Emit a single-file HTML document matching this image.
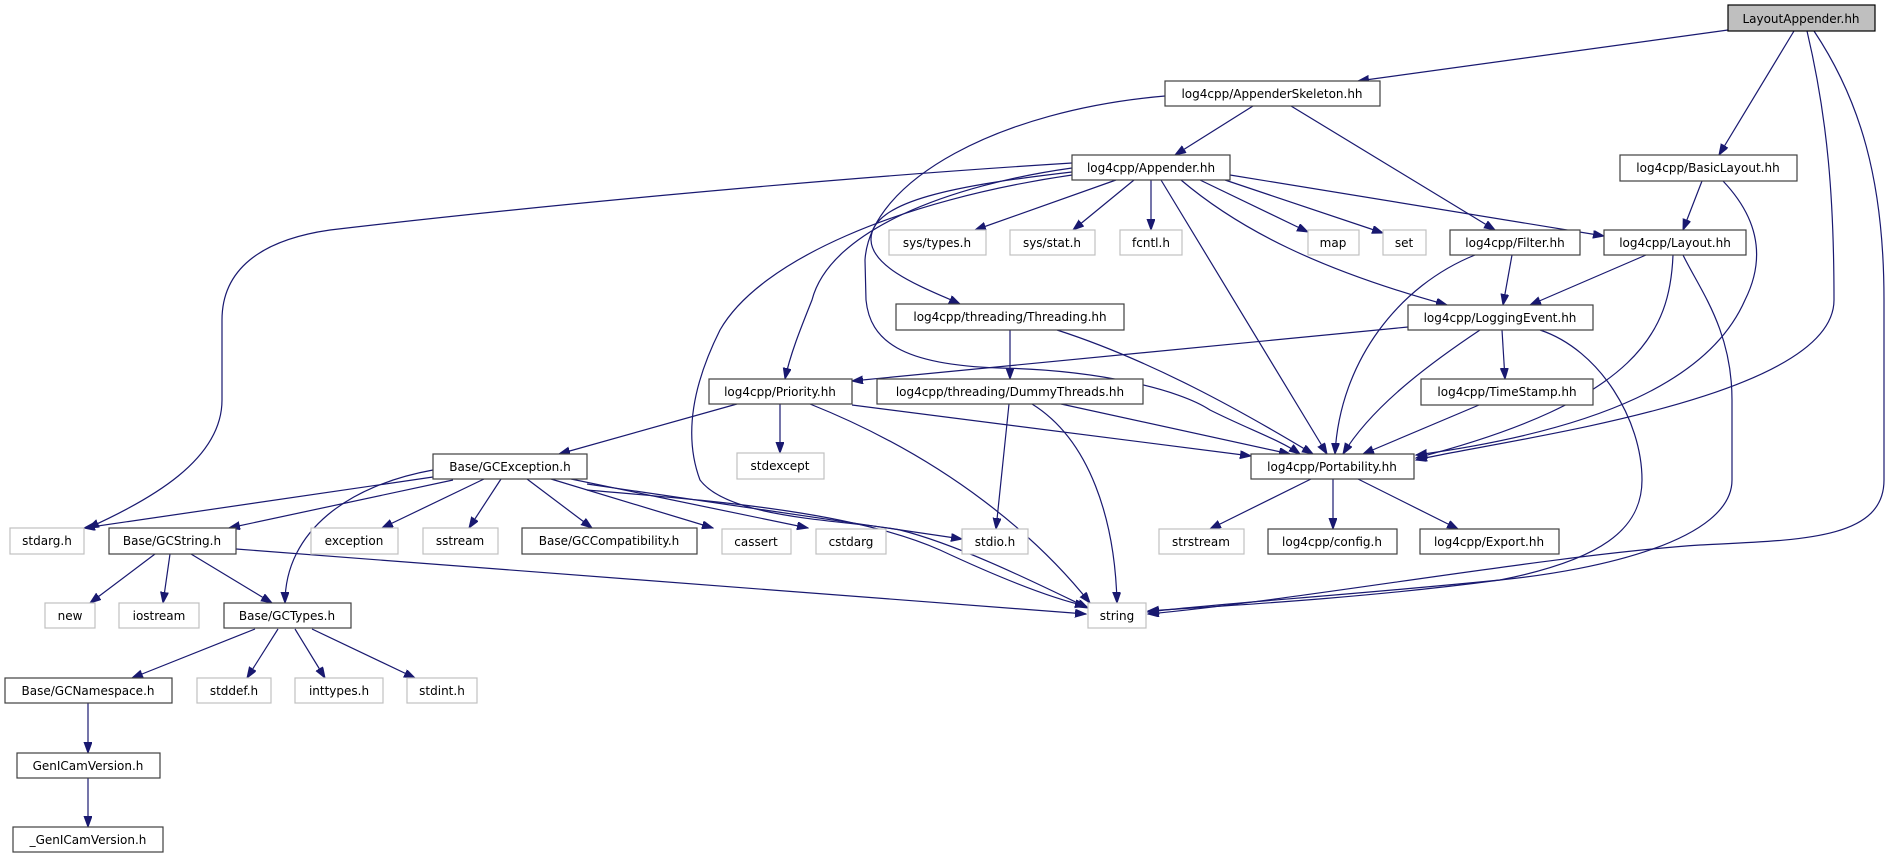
<!DOCTYPE html>
<html><head><meta charset="utf-8"><style>
html,body{margin:0;padding:0;background:#fff;width:1890px;height:859px;overflow:hidden}
svg{display:block}
text{font-family:"DejaVu Sans","Liberation Sans",sans-serif;font-size:12px;fill:#000;text-anchor:middle}
.n{fill:#fff;stroke:#404040;stroke-width:1.2}
.g{fill:#fff;stroke:#c0c0c0;stroke-width:1.2}
.e{fill:none;stroke:#191970;stroke-width:1.2;marker-end:url(#a)}
</style></head><body>
<svg width="1890" height="859" viewBox="0 0 1890 859" xmlns="http://www.w3.org/2000/svg">
<defs><marker id="a" markerUnits="userSpaceOnUse" markerWidth="12" markerHeight="9" refX="11" refY="4" orient="auto"><path d="M0,0 L11,4 L0,8 z" fill="#191970" stroke="#191970"/></marker></defs>
<g>
<path class="e" d="M1728,30 L1358,81"/>
<path class="e" d="M1794,31 L1719,155"/>
<path class="e" d="M1807,31 C1828,120 1834,200 1834,300 C1834,400 1500,440 1416,460"/>
<path class="e" d="M1814,31 C1860,100 1884,180 1884,300 L1884,480 C1884,540 1800,540 1700,545 C1550,555 1300,600 1148,614"/>
<path class="e" d="M1253,106 L1175,155"/>
<path class="e" d="M1291,106 L1495,230"/>
<path class="e" d="M1165,96 C1000,110 870,180 865,260 L866,300 C870,340 900,365 1000,368 C1100,370 1180,390 1210,410 C1250,430 1280,440 1300,454"/>
<path class="e" d="M1116,180 L975,230"/>
<path class="e" d="M1134,180 L1073,230"/>
<path class="e" d="M1151,180 L1151,230"/>
<path class="e" d="M1200,180 L1308,232"/>
<path class="e" d="M1225,180 L1383,233"/>
<path class="e" d="M1230,175 L1604,236"/>
<path class="e" d="M1181,180 C1240,230 1320,270 1447,305"/>
<path class="e" d="M1161,180 L1327,454"/>
<path class="e" d="M1072,172 C960,185 870,200 871,240 C872,270 930,290 960,304"/>
<path class="e" d="M1072,168 C950,185 830,230 812,300 C800,330 790,355 785,379"/>
<path class="e" d="M1072,163 C800,180 500,210 330,230 C260,240 222,270 222,320 L222,400 C222,460 150,500 88,528"/>
<path class="e" d="M1072,175 C900,200 760,260 720,330 C690,390 685,440 700,480 C730,520 850,520 900,530 C960,545 1040,585 1088,608"/>
<path class="e" d="M1512,255 L1503,305"/>
<path class="e" d="M1475,255 C1400,285 1340,360 1335,454"/>
<path class="e" d="M1646,255 L1530,305"/>
<path class="e" d="M1673,255 C1670,330 1640,400 1416,458"/>
<path class="e" d="M1683,255 C1700,290 1732,330 1732,400 L1732,480 C1732,540 1600,570 1500,580 C1350,595 1200,605 1148,612"/>
<path class="e" d="M1702,181 L1683,230"/>
<path class="e" d="M1723,181 C1760,220 1765,260 1745,300 C1710,380 1600,430 1416,455"/>
<path class="e" d="M1010,330 L1010,379"/>
<path class="e" d="M1057,330 C1150,360 1240,410 1313,454"/>
<path class="e" d="M1408,327 L852,381"/>
<path class="e" d="M1480,330 C1420,370 1370,410 1343,454"/>
<path class="e" d="M1502,330 L1505,379"/>
<path class="e" d="M1540,330 C1600,350 1642,420 1642,480 C1642,530 1600,560 1500,580 C1350,600 1200,607 1148,611"/>
<path class="e" d="M1479,405 L1363,454"/>
<path class="e" d="M737,404 L559,454"/>
<path class="e" d="M780,404 L780,453"/>
<path class="e" d="M852,405 L1251,456"/>
<path class="e" d="M810,404 C950,460 1040,540 1090,603"/>
<path class="e" d="M1061,404 L1290,454"/>
<path class="e" d="M1009,404 L996,529"/>
<path class="e" d="M1032,404 C1090,440 1115,520 1117,603"/>
<path class="e" d="M1311,479 L1210,529"/>
<path class="e" d="M1333,479 L1333,529"/>
<path class="e" d="M1358,479 L1458,529"/>
<path class="e" d="M433,477 L84,528"/>
<path class="e" d="M453,480 L229,528"/>
<path class="e" d="M484,479 L382,528"/>
<path class="e" d="M501,479 L469,528"/>
<path class="e" d="M527,479 L592,528"/>
<path class="e" d="M551,479 L713,528"/>
<path class="e" d="M571,479 L808,528"/>
<path class="e" d="M587,484 L962,539"/>
<path class="e" d="M587,490 C700,500 850,510 940,550 C1000,578 1050,598 1086,606"/>
<path class="e" d="M433,470 C350,485 285,530 285,603"/>
<path class="e" d="M155,554 L90,603"/>
<path class="e" d="M170,554 L163,603"/>
<path class="e" d="M191,554 L272,603"/>
<path class="e" d="M236,549 L1086,614"/>
<path class="e" d="M255,629 L132,678"/>
<path class="e" d="M278,629 L247,678"/>
<path class="e" d="M295,629 L325,678"/>
<path class="e" d="M312,629 L415,678"/>
<path class="e" d="M88,703 L88,753"/>
<path class="e" d="M88,778 L88,827"/>
</g>
<g>
<rect x="1728" y="5" width="147" height="26" fill="#bfbfbf" stroke="#000" stroke-width="1.2"/><text x="1801" y="23">LayoutAppender.hh</text>
<rect class="n" x="1165" y="81" width="215" height="25"/><text x="1272" y="98">log4cpp/AppenderSkeleton.hh</text>
<rect class="n" x="1620" y="155" width="177" height="26"/><text x="1708" y="172">log4cpp/BasicLayout.hh</text>
<rect class="n" x="1072" y="155" width="158" height="25"/><text x="1151" y="172">log4cpp/Appender.hh</text>
<rect class="g" x="889" y="230" width="97" height="25"/><text x="937" y="247">sys/types.h</text>
<rect class="g" x="1010" y="230" width="85" height="25"/><text x="1052" y="247">sys/stat.h</text>
<rect class="g" x="1120" y="230" width="62" height="25"/><text x="1151" y="247">fcntl.h</text>
<rect class="g" x="1308" y="230" width="51" height="25"/><text x="1333" y="247">map</text>
<rect class="g" x="1383" y="230" width="43" height="25"/><text x="1404" y="247">set</text>
<rect class="n" x="1450" y="230" width="130" height="25"/><text x="1515" y="247">log4cpp/Filter.hh</text>
<rect class="n" x="1604" y="230" width="142" height="25"/><text x="1675" y="247">log4cpp/Layout.hh</text>
<rect class="n" x="896" y="304" width="228" height="26"/><text x="1010" y="321">log4cpp/threading/Threading.hh</text>
<rect class="n" x="1408" y="305" width="185" height="25"/><text x="1500" y="322">log4cpp/LoggingEvent.hh</text>
<rect class="n" x="709" y="379" width="143" height="25"/><text x="780" y="396">log4cpp/Priority.hh</text>
<rect class="n" x="877" y="379" width="266" height="25"/><text x="1010" y="396">log4cpp/threading/DummyThreads.hh</text>
<rect class="n" x="1421" y="379" width="172" height="26"/><text x="1507" y="396">log4cpp/TimeStamp.hh</text>
<rect class="g" x="737" y="453" width="87" height="26"/><text x="780" y="470">stdexcept</text>
<rect class="n" x="433" y="454" width="154" height="25"/><text x="510" y="471">Base/GCException.h</text>
<rect class="n" x="1251" y="454" width="163" height="25"/><text x="1332" y="471">log4cpp/Portability.hh</text>
<rect class="g" x="10" y="528" width="74" height="26"/><text x="47" y="545">stdarg.h</text>
<rect class="n" x="109" y="528" width="127" height="26"/><text x="172" y="545">Base/GCString.h</text>
<rect class="g" x="311" y="528" width="87" height="26"/><text x="354" y="545">exception</text>
<rect class="g" x="423" y="528" width="75" height="26"/><text x="460" y="545">sstream</text>
<rect class="n" x="522" y="528" width="175" height="26"/><text x="609" y="545">Base/GCCompatibility.h</text>
<rect class="g" x="722" y="529" width="69" height="25"/><text x="756" y="546">cassert</text>
<rect class="g" x="816" y="529" width="70" height="25"/><text x="851" y="546">cstdarg</text>
<rect class="g" x="962" y="529" width="66" height="25"/><text x="995" y="546">stdio.h</text>
<rect class="g" x="1159" y="529" width="85" height="25"/><text x="1201" y="546">strstream</text>
<rect class="n" x="1268" y="529" width="129" height="25"/><text x="1332" y="546">log4cpp/config.h</text>
<rect class="n" x="1420" y="529" width="139" height="25"/><text x="1489" y="546">log4cpp/Export.hh</text>
<rect class="g" x="45" y="603" width="50" height="25"/><text x="70" y="620">new</text>
<rect class="g" x="119" y="603" width="80" height="25"/><text x="159" y="620">iostream</text>
<rect class="n" x="224" y="603" width="127" height="25"/><text x="287" y="620">Base/GCTypes.h</text>
<rect class="g" x="1088" y="603" width="58" height="25"/><text x="1117" y="620">string</text>
<rect class="n" x="5" y="678" width="167" height="25"/><text x="88" y="695">Base/GCNamespace.h</text>
<rect class="g" x="197" y="678" width="74" height="25"/><text x="234" y="695">stddef.h</text>
<rect class="g" x="295" y="678" width="88" height="25"/><text x="339" y="695">inttypes.h</text>
<rect class="g" x="407" y="678" width="70" height="25"/><text x="442" y="695">stdint.h</text>
<rect class="n" x="17" y="753" width="143" height="25"/><text x="88" y="770">GenICamVersion.h</text>
<rect class="n" x="13" y="827" width="150" height="25"/><text x="88" y="844">_GenICamVersion.h</text>
</g>
</svg>
</body></html>
